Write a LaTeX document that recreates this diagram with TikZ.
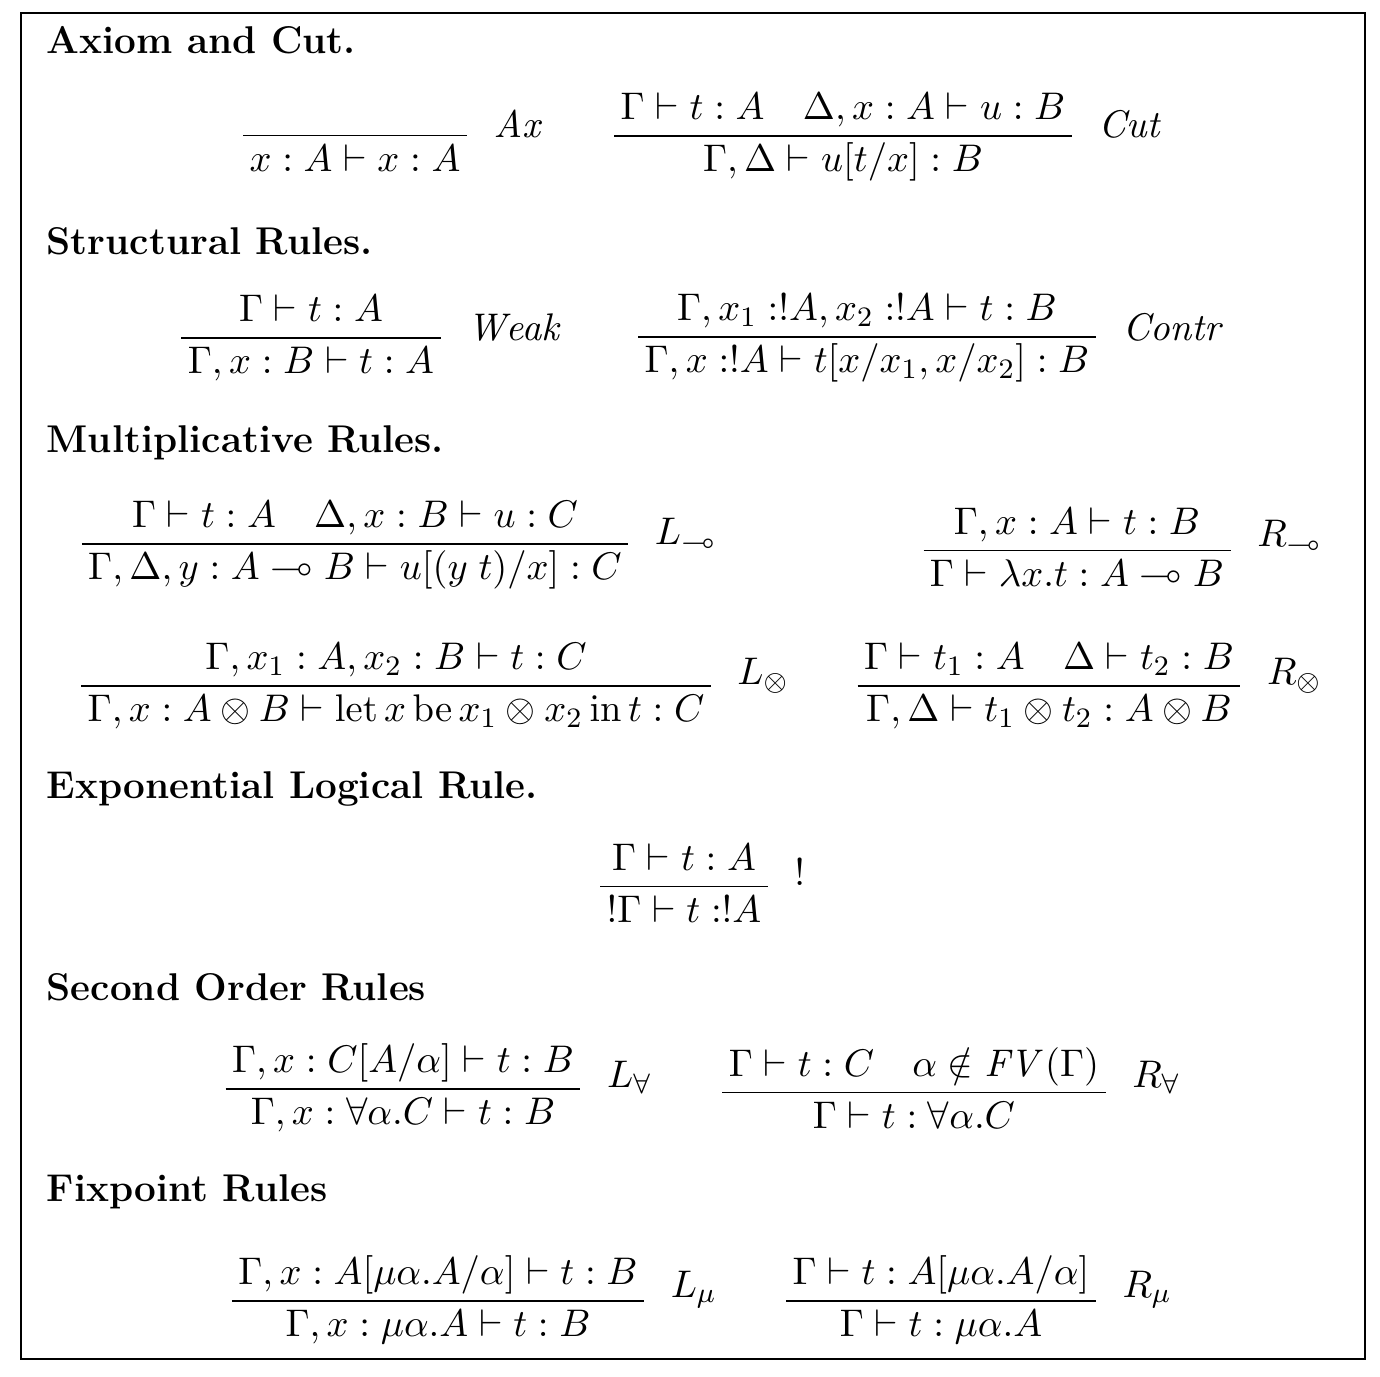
\documentclass[tikz,border=0pt]{standalone}
\usepackage{amsmath,amssymb}
\newcommand\myrule[2]{$\displaystyle\frac{\,#1\,}{\,#2\,}$}
\begin{document}
\begin{tikzpicture}[x=0.01cm,y=-0.01cm,
  head/.style={anchor=west,font=\fontsize{11}{13}\selectfont\bfseries,inner sep=0pt},
  rul/.style={inner sep=0pt,font=\fontsize{10.9}{13}\selectfont},
  lab/.style={anchor=west,font=\fontsize{10.9}{13}\selectfont,inner sep=0pt,yshift=3pt}]
\useasboundingbox (0,0) rectangle (1380,1376);
\draw[line width=0.8pt] (21,13) rectangle (1365,1359);
\node[head] (h1) at (46,40) {Axiom and Cut.};
\node[head] (h2) at (46,241) {Structural Rules.};
\node[head] (h3) at (46,443) {Multiplicative Rules.};
\node[head] (h4) at (46,789) {Exponential Logical Rule.};
\node[head] (h5) at (46,987) {Second Order Rules};
\node[head] (h6) at (46,1192) {Fixpoint Rules};
\node[rul] (ax) at (355,132) {\myrule{\vphantom{A}}{x:A\vdash x:A}};
\node[lab] at ([xshift=6pt]ax.east |- 0,135) {$\mathit{Ax}$};
\node[rul] (cut) at (843,137) {\myrule{\Gamma\vdash t:A\quad \Delta,x:A\vdash u:B}{\Gamma,\Delta\vdash u[t/x]:B}};
\node[lab] at ([xshift=6pt]cut.east |- 0,135) {$\mathit{Cut}$};
\node[rul] (weak) at (311,338) {\myrule{\Gamma\vdash t:A}{\Gamma,x:B\vdash t:A}};
\node[lab] at ([xshift=6pt]weak.east |- 0,338) {$\mathit{Weak}$};
\node[rul] (contr) at (867,338) {\myrule{\Gamma,x_1:!A,x_2:!A\vdash t:B}{\Gamma,x:!A\vdash t[x/x_1,x/x_2]:B}};
\node[lab] at ([xshift=6pt]contr.east |- 0,338) {$\mathit{Contr}$};
\node[rul] (ll) at (355,545) {\myrule{\Gamma\vdash t:A\quad \Delta,x:B\vdash u:C}{\Gamma,\Delta,y:A\multimap B\vdash u[(y\;t)/x]:C}};
\node[lab] at ([xshift=6pt]ll.east |- 0,545) {$L_{\multimap}$};
\node[rul] (rl) at (1077,547) {\myrule{\Gamma,x:A\vdash t:B}{\Gamma\vdash \lambda x.t:A\multimap B}};
\node[lab] at ([xshift=6pt]rl.east |- 0,547) {$R_{\multimap}$};
\node[rul] (lt) at (396,686) {\myrule{\Gamma,x_1:A,x_2:B\vdash t:C}{\Gamma,x:A\otimes B\vdash \mathrm{let}\,x\,\mathrm{be}\,x_1\otimes x_2\,\mathrm{in}\,t:C}};
\node[lab] at ([xshift=6pt]lt.east |- 0,686) {$L_{\otimes}$};
\node[rul] (rt) at (1049,686) {\myrule{\Gamma\vdash t_1:A\quad \Delta\vdash t_2:B}{\Gamma,\Delta\vdash t_1\otimes t_2:A\otimes B}};
\node[lab] at ([xshift=6pt]rt.east |- 0,686) {$R_{\otimes}$};
\node[rul] (bang) at (684,883) {\myrule{\Gamma\vdash t:A}{!\Gamma\vdash t:!A}};
\node[lab] at ([xshift=6pt]bang.east |- 0,883) {$!$};
\node[rul] (la) at (403,1088) {\myrule{\Gamma,x:C[A/\alpha]\vdash t:B}{\Gamma,x:\forall\alpha.C\vdash t:B}};
\node[lab] at ([xshift=6pt]la.east |- 0,1088) {$L_{\forall}$};
\node[rul] (ra) at (914,1088) {\myrule{\Gamma\vdash t:C\quad \alpha\notin \mathit{FV}(\Gamma)}{\Gamma\vdash t:\forall\alpha.C}};
\node[lab] at ([xshift=6pt]ra.east |- 0,1088) {$R_{\forall}$};
\node[rul] (lm) at (438,1300) {\myrule{\Gamma,x:A[\mu\alpha.A/\alpha]\vdash t:B}{\Gamma,x:\mu\alpha.A\vdash t:B}};
\node[lab] at ([xshift=6pt]lm.east |- 0,1300) {$L_{\mu}$};
\node[rul] (rm) at (941,1300) {\myrule{\Gamma\vdash t:A[\mu\alpha.A/\alpha]}{\Gamma\vdash t:\mu\alpha.A}};
\node[lab] at ([xshift=6pt]rm.east |- 0,1300) {$R_{\mu}$};
\end{tikzpicture}
\end{document}
